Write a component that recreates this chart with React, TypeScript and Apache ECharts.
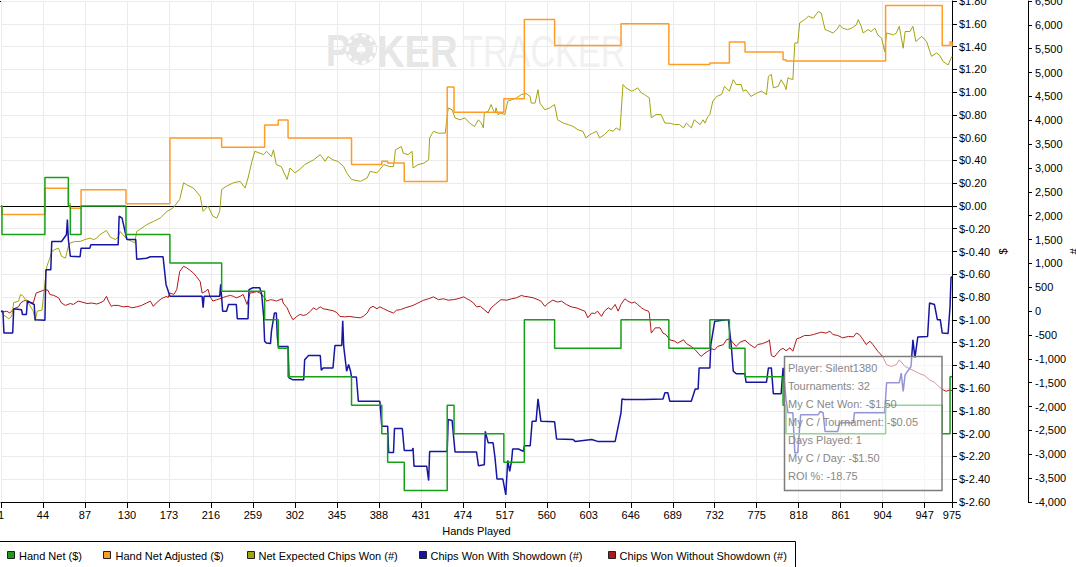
import React, { useEffect, useRef } from 'react';
import * as echarts from 'echarts';

// ---------- data (hand number, value) ----------
const seriesNames = [
  'Hand Net ($)',
  'Hand Net Adjusted ($)',
  'Net Expected Chips Won (#)',
  'Chips Won With Showdown (#)',
  'Chips Won Without Showdown (#)',
];

const handNet: [number, number][] = [
  [1, 0], [2, -0.25], [46, 0.25], [70, 0], [72, -0.25], [83, 0], [129, -0.25], [174, -0.5], [227, -0.75],
  [271, -1.0], [285, -1.25], [295, -1.5], [360, -1.75], [391, -2.0], [397, -2.25], [414, -2.5], [458, -1.75],
  [465, -2.0], [516, -2.25], [537, -1.0], [568, -1.25], [636, -1.0], [685, -1.25], [727, -1.0], [747, -1.25],
  [763, -1.5], [802, -1.75], [805, -2.0], [907, -1.75], [965, -2.0], [973, -1.5], [975, -1.5],
];

const handNetAdjusted: [number, number][] = [
  [1, 0], [2, -0.075], [46, 0.155], [70, 0.02], [72, -0.02], [83, 0.143], [129, 0.02], [174, 0.597], [227, 0.515],
  [271, 0.711], [285, 0.755], [295, 0.597], [360, 0.365], [391, 0.392], [397, 0.378], [414, 0.215], [458, 1.045],
  [465, 0.822], [516, 0.942], [537, 1.638], [568, 1.41], [636, 1.6], [685, 1.243], [727, 1.256], [747, 1.44],
  [763, 1.352], [802, 1.285], [805, 1.273], [907, 1.761], [965, 1.41], [973, 1.44], [975, 1.4],
];

const netExpectedChips: [number, number][] = [
  [1, 0], [3, -70], [9, -160], [12, -110], [14, 180], [19, 210], [21, 350], [24, 310], [26, 240], [29, 170], [32, 70],
  [34, 0], [36, -210], [38, 0], [43, 20], [46, 590], [48, 940], [51, 1110], [53, 1250], [56, 1290], [60, 1320],
  [63, 1150], [67, 1110], [70, 1360], [72, 1430], [77, 1460], [82, 1460], [87, 1500], [92, 1530], [96, 1500],
  [99, 1530], [102, 1600], [109, 1690], [113, 1550], [118, 1500], [121, 1550], [123, 1670], [126, 1600], [130, 1510],
  [135, 1460], [138, 1430], [140, 1670], [143, 1710], [150, 1810], [157, 1880], [164, 1950], [171, 2090], [177, 2160],
  [184, 2340], [188, 2690], [191, 2650], [198, 2580], [205, 2410], [208, 2090], [213, 2200], [218, 1990], [222, 1950],
  [225, 2090], [227, 2550], [232, 2620], [239, 2690], [246, 2720], [251, 2580], [254, 2790], [258, 3140], [261, 3350],
  [270, 3280], [273, 3350], [278, 3240], [280, 3380], [283, 3070], [288, 3030], [294, 2760], [297, 3000], [302, 2900],
  [307, 2970], [312, 3070], [321, 3170], [328, 3280], [333, 3140], [336, 3240], [341, 3170], [346, 3140], [352, 3030],
  [355, 2900], [360, 2760], [369, 2720], [376, 2790], [379, 2930], [386, 2900], [389, 2970], [393, 3070], [399, 3030],
  [403, 3030], [405, 3380], [411, 3450], [413, 3310], [418, 3280], [422, 3350], [423, 3000], [428, 3070], [434, 3100],
  [439, 3170], [440, 3630], [444, 3770], [449, 3730], [456, 3730], [459, 4260], [463, 4220], [466, 4050], [471, 4010],
  [476, 4050], [481, 3940], [486, 3870], [490, 4010], [493, 3940], [495, 3840], [496, 4150], [500, 4190], [503, 4330],
  [505, 4220], [507, 4150], [508, 4260], [510, 4120], [513, 4150], [517, 4120], [520, 4400], [524, 4430], [529, 4470],
  [534, 4540], [539, 4560], [543, 4500], [544, 4360], [548, 4360], [551, 4640], [553, 4360], [558, 4220], [563, 4260],
  [568, 4330], [571, 4010], [577, 3940], [582, 3910], [587, 3870], [592, 3800], [597, 3770], [600, 3630], [604, 3700],
  [607, 3730], [611, 3770], [614, 3630], [619, 3700], [624, 3800], [628, 3770], [631, 3840], [635, 3790], [638, 4750],
  [641, 4680], [647, 4610], [650, 4640], [653, 4680], [657, 4570], [660, 4540], [665, 4470], [667, 4050], [672, 4120],
  [677, 4120], [681, 3940], [686, 3940], [691, 3910], [696, 3910], [700, 3840], [703, 3940], [708, 3840], [711, 4010],
  [717, 3910], [720, 4010], [722, 3940], [725, 4080], [727, 4120], [730, 4400], [734, 4500], [739, 4540], [742, 4710],
  [747, 4610], [751, 4850], [754, 4750], [759, 4750], [761, 4610], [764, 4640], [769, 4500], [775, 4570], [780, 4610],
  [785, 4540], [787, 4920], [790, 4960], [792, 4680], [797, 4710], [800, 4850], [804, 4710], [805, 4640], [807, 4890],
  [812, 4850], [814, 5620], [817, 5620], [819, 6040], [824, 6110], [828, 6180], [833, 6140], [838, 6280], [841, 6250],
  [845, 5900], [850, 5860], [853, 5830], [857, 5900], [860, 6000], [863, 5930], [868, 5900], [872, 5930], [877, 6000],
  [879, 6110], [882, 5970], [884, 5830], [889, 5900], [892, 5860], [896, 5930], [899, 5790], [903, 5720], [906, 5440],
  [908, 5830], [915, 5790], [918, 5830], [921, 5970], [925, 5510], [927, 5860], [932, 5860], [935, 5970], [938, 5650],
  [944, 5760], [949, 5650], [954, 5340], [959, 5410], [962, 5370], [966, 5230], [971, 5160], [974, 5300], [975, 5340],
];

const chipsWithShowdown: [number, number][] = [
  [1, 0], [3, 0], [4, -460], [13, -460], [14, 50], [22, 30], [23, -70], [27, -70], [28, 210], [35, 140], [36, -180],
  [46, -190], [47, 870], [52, 870], [53, 1460], [63, 1460], [68, 1600], [69, 1920], [70, 1500], [72, 1150], [82, 1140],
  [83, 1320], [92, 1320], [93, 1390], [121, 1390], [122, 1990], [125, 1950], [128, 1670], [130, 1500], [139, 1500],
  [140, 1090], [150, 1110], [154, 1140], [167, 1140], [170, 560], [174, 310], [207, 310], [208, 70], [209, 310],
  [225, 310], [226, 560], [228, 0], [232, 0], [234, 140], [242, 140], [243, -160], [254, -160], [255, 450], [259, 490],
  [266, 490], [268, 350], [270, -110], [271, -630], [273, -670], [277, -680], [278, -420], [281, -40], [283, -40],
  [284, -530], [285, -740], [295, -740], [296, -1400], [300, -1440], [311, -1440], [312, -1020], [316, -930],
  [328, -930], [329, -1240], [331, -1190], [341, -1190], [343, -720], [350, -720], [351, -200], [352, -740],
  [355, -1260], [357, -1120], [359, -1260], [360, -1380], [365, -1380], [367, -1890], [389, -1890], [391, -2410],
  [397, -2410], [398, -2960], [403, -2960], [404, -2460], [412, -2460], [414, -2920], [422, -2920], [423, -2870],
  [424, -3250], [437, -3250], [439, -3550], [440, -2940], [458, -2940], [459, -2270], [463, -2290], [466, -2950],
  [488, -2950], [490, -3240], [496, -3220], [497, -2520], [500, -2760], [505, -2760], [507, -3080], [509, -3520],
  [515, -3520], [518, -3850], [520, -3130], [522, -3360], [524, -3130], [525, -2890], [531, -2890], [536, -2940],
  [537, -2820], [543, -2820], [545, -2310], [549, -2310], [551, -1840], [554, -2310], [568, -2320], [570, -2680],
  [587, -2690], [589, -2730], [606, -2690], [612, -2730], [630, -2730], [636, -2130], [637, -1840], [640, -1850],
  [660, -1850], [679, -1840], [681, -1710], [684, -1710], [686, -1890], [708, -1890], [712, -1630], [715, -1630],
  [716, -1190], [727, -1190], [728, -700], [732, -210], [744, -180], [746, -180], [749, -740], [751, -1260],
  [754, -1310], [763, -1310], [764, -1490], [785, -1490], [787, -1190], [790, -1190], [792, -1730], [800, -1730],
  [802, -1190], [805, -1850], [807, -2130], [812, -2130], [814, -2970], [817, -2970], [820, -2170], [838, -2170],
  [840, -2100], [843, -2130], [845, -2520], [858, -2520], [860, -2340], [874, -2340], [875, -2130], [906, -2130],
  [908, -1500], [921, -1500], [923, -1300], [925, -1680], [927, -1330], [933, -1160], [935, -600], [937, -980],
  [940, -540], [950, -530], [952, 170], [957, 140], [960, -180], [963, -180], [965, -460], [971, -470], [973, 100],
  [974, 700], [975, 730],
];

const chipsWithoutShowdown: [number, number][] = [
  [1, 0], [3, -20], [7, 0], [10, -40], [14, 50], [19, 90], [21, 170], [24, 210], [27, 230], [31, 190], [34, 170],
  [37, 380], [41, 410], [46, 450], [49, 440], [51, 350], [55, 330], [60, 280], [63, 170], [67, 120], [72, 160],
  [75, 140], [80, 210], [84, 190], [89, 160], [94, 170], [99, 150], [102, 170], [106, 210], [109, 310], [111, 210],
  [114, 100], [116, 120], [121, 120], [126, 90], [131, 100], [135, 70], [140, 90], [145, 120], [150, 170], [154, 210],
  [157, 100], [160, 170], [164, 240], [167, 280], [171, 310], [172, 280], [174, 380], [178, 350], [181, 450],
  [184, 830], [188, 940], [191, 910], [195, 850], [198, 800], [201, 730], [205, 620], [207, 380], [210, 410],
  [213, 460], [215, 310], [218, 210], [222, 240], [225, 260], [229, 290], [232, 310], [236, 330], [239, 310],
  [242, 280], [246, 310], [249, 350], [253, 140], [256, 380], [259, 390], [263, 410], [266, 380], [270, 310],
  [273, 210], [277, 240], [280, 230], [283, 210], [289, 260], [290, 170], [294, 70], [297, -70], [300, -180],
  [304, -110], [307, -70], [311, -90], [314, -70], [318, 0], [321, 70], [324, 30], [328, 90], [331, 50], [336, 30],
  [341, 10], [345, -30], [348, -110], [353, -120], [358, -110], [364, -130], [369, -140], [372, -110], [376, -40],
  [379, 70], [382, 100], [386, 50], [389, 90], [393, 50], [398, 0], [403, -40], [406, 20], [410, 30], [415, 70],
  [420, 100], [423, 120], [428, 170], [434, 230], [439, 260], [444, 300], [449, 240], [454, 260], [459, 230],
  [464, 240], [469, 260], [475, 300], [478, 260], [481, 230], [485, 170], [488, 90], [492, 100], [496, 30],
  [500, -40], [503, 70], [507, 140], [510, 190], [513, 240], [519, 230], [524, 260], [529, 280], [534, 330],
  [537, 310], [541, 300], [546, 280], [551, 240], [554, 210], [558, 100], [561, 160], [566, 230], [571, 190],
  [575, 210], [580, 140], [585, 90], [590, 70], [595, 30], [599, 0], [602, -140], [606, -40], [609, -50], [612, 0],
  [616, -110], [619, 0], [623, 70], [626, 30], [630, 140], [633, 0], [636, 140], [640, 260], [643, 210], [647, 170],
  [650, 190], [653, 140], [657, 70], [660, 30], [664, 0], [665, -40], [667, -460], [671, -350], [676, -350],
  [679, -460], [682, -490], [686, -600], [691, -630], [694, -670], [700, -600], [703, -680], [708, -740], [712, -810],
  [715, -880], [718, -950], [722, -880], [725, -840], [729, -790], [732, -810], [735, -740], [741, -700], [744, -600],
  [747, -580], [751, -670], [754, -740], [758, -650], [763, -610], [768, -700], [773, -770], [776, -700], [781, -680],
  [787, -630], [788, -600], [790, -930], [793, -960], [799, -810], [802, -780], [805, -830], [809, -770], [812, -840],
  [816, -580], [819, -560], [824, -510], [829, -510], [833, -490], [838, -460], [841, -440], [846, -460], [850, -420],
  [853, -490], [858, -510], [863, -560], [869, -530], [874, -540], [877, -460], [880, -490], [884, -600], [887, -700],
  [891, -630], [894, -700], [899, -840], [904, -950], [908, -1120], [913, -1160], [918, -1120], [921, -1020],
  [927, -1160], [932, -1210], [937, -1260], [942, -1310], [947, -1350], [952, -1440], [957, -1490], [962, -1590],
  [966, -1650], [969, -1680], [973, -1650], [975, -1670],
];

const statsLines = [
  'Player: Silent1380',
  'Tournaments: 32',
  'My C Net Won: -$1.50',
  'My C / Tournament: -$0.05',
  'Days Played: 1',
  'My C / Day: -$1.50',
  'ROI %: -18.75',
];

// ---------- styling ----------
const COLORS = ['#16a016', '#ff9c26', '#a3a30f', '#1616a3', '#b01818'];
const FONT = '"Liberation Sans", Arial, sans-serif';

const toXY = (pts: [number, number][]) => pts.map(([h, v]) => [h - 1, v]);

const fmtDollar = (v: number) => {
  const r = Math.round(v * 100) / 100;
  return r < 0 ? '$-' + Math.abs(r).toFixed(2) : '$' + r.toFixed(2);
};
const fmtChips = (v: number) => Math.round(v).toLocaleString('en-US');

export default function App() {
  const ref = useRef<HTMLDivElement>(null);

  useEffect(() => {
    if (!ref.current) return;
    const chart = echarts.init(ref.current, undefined, { renderer: 'svg' });

    const legendBoxX = [7.5, 103.5, 247.5, 419.5, 608.5];
    const legendTextX = [19, 115.5, 258.5, 430.5, 619.5];

    const lineSeries = (idx: number, data: [number, number][], yAxisIndex: number, width: number, step?: string) => ({
      name: seriesNames[idx],
      type: 'line',
      yAxisIndex,
      step: step || false,
      data: toXY(data),
      symbol: 'none',
      showSymbol: false,
      lineStyle: { color: COLORS[idx], width },
      itemStyle: { color: COLORS[idx] },
      z: 2,
      silent: true,
    });

    const option: any = {
      animation: false,
      textStyle: { fontFamily: FONT },
      grid: { left: 1, right: 124, top: 1, bottom: 65, containLabel: false, outerBoundsMode: 'none' },
      xAxis: [
        {
          type: 'value',
          min: 0,
          max: 974,
          interval: 43,
          name: 'Hands Played',
          nameLocation: 'middle',
          nameGap: 23,
          nameMoveOverlap: false,
          nameTextStyle: { color: '#000', fontSize: 11, fontFamily: FONT },
          axisLine: { show: true, onZero: false, lineStyle: { color: '#000', width: 1 } },
          axisTick: { show: true, length: 6, lineStyle: { color: '#000' } },
          axisLabel: {
            color: '#000', fontSize: 11, fontFamily: FONT, margin: 7,
            showMinLabel: true, showMaxLabel: true, hideOverlap: false,
            formatter: (v: number) => String(Math.round(v) + 1),
          },
          splitLine: { show: true, lineStyle: { color: '#ebebeb', width: 1 } },
        },
        {
          // $0.00 reference line (axis line placed on the $ axis zero)
          type: 'value',
          min: 0,
          max: 974,
          position: 'bottom',
          axisLine: { show: true, onZero: true, onZeroAxisIndex: 0, lineStyle: { color: '#000', width: 1 } },
          axisTick: { show: false },
          axisLabel: { show: false },
          splitLine: { show: false },
          z: 1,
        },
      ],
      yAxis: [
        {
          type: 'value',
          position: 'right',
          min: -2.6,
          max: 1.8,
          interval: 0.2,
          name: '$',
          nameLocation: 'middle',
          nameGap: 45,
          nameMoveOverlap: false,
          nameTextStyle: { color: '#000', fontSize: 11, fontFamily: FONT },
          axisLine: { show: true, onZero: false, lineStyle: { color: '#000', width: 1 } },
          axisTick: { show: true, length: 5, lineStyle: { color: '#000' } },
          axisLabel: { color: '#000', fontSize: 11, fontFamily: FONT, margin: 7, showMinLabel: true, showMaxLabel: true, formatter: fmtDollar },
          splitLine: { show: true, lineStyle: { color: '#ebebeb', width: 1 } },
        },
        {
          type: 'value',
          position: 'right',
          offset: 76,
          min: -4000,
          max: 6500,
          interval: 500,
          name: '#',
          nameLocation: 'middle',
          nameGap: 40,
          nameMoveOverlap: false,
          nameTextStyle: { color: '#000', fontSize: 11, fontFamily: FONT },
          axisLine: { show: true, onZero: false, lineStyle: { color: '#000', width: 1 } },
          axisTick: { show: true, length: 4, lineStyle: { color: '#000' } },
          axisLabel: { color: '#000', fontSize: 11, fontFamily: FONT, margin: 7, showMinLabel: true, showMaxLabel: true, formatter: fmtChips },
          splitLine: { show: false },
        },
      ],
      series: [
        lineSeries(4, chipsWithoutShowdown, 1, 1),
        lineSeries(2, netExpectedChips, 1, 1),
        lineSeries(1, handNetAdjusted, 0, 1.5, 'end'),
        lineSeries(3, chipsWithShowdown, 1, 1.5),
        lineSeries(0, handNet, 0, 1.5, 'end'),
      ],
      graphic: {
        elements: [
          // top border of plot
          { type: 'line', silent: true, shape: { x1: 0, y1: 1.5, x2: 952, y2: 1.5 }, style: { stroke: '#000', lineWidth: 1 } },
          // watermark
          {
            type: 'text', silent: true, x: 326, y: 51, scaleX: 0.8,
            style: { text: 'P', font: 'bold 45px ' + FONT, fill: '#e6e6e6', align: 'left', verticalAlign: 'middle', textAlign: 'left', textVerticalAlign: 'middle' },
          },
          { type: 'circle', silent: true, shape: { cx: 361, cy: 49, r: 16 }, style: { fill: '#e6e6e6' } },
          { type: 'circle', silent: true, shape: { cx: 361, cy: 49, r: 13.5 }, style: { fill: 'none', stroke: '#ffffff', lineWidth: 3, lineDash: [4, 4] } },
          { type: 'circle', silent: true, shape: { cx: 361, cy: 49, r: 10 }, style: { fill: '#e6e6e6' } },
          {
            type: 'text', silent: true, x: 361, y: 49,
            style: { text: '\u2660', font: '15px "DejaVu Sans"', fill: '#ffffff', align: 'center', verticalAlign: 'middle', textAlign: 'center', textVerticalAlign: 'middle' },
          },
          {
            type: 'text', silent: true, x: 377, y: 51, scaleX: 0.85,
            style: { text: 'KER', font: 'bold 45px ' + FONT, fill: '#e6e6e6', align: 'left', verticalAlign: 'middle', textAlign: 'left', textVerticalAlign: 'middle' },
          },
          {
            type: 'text', silent: true, x: 462, y: 51, scaleX: 0.76,
            style: { text: 'TRACKER', font: '45px ' + FONT, fill: '#f1f1f1', align: 'left', verticalAlign: 'middle', textAlign: 'left', textVerticalAlign: 'middle' },
          },
          // stats box
          {
            type: 'rect', silent: true, z: 50,
            shape: { x: 784.5, y: 356.5, width: 157.5, height: 134 },
            style: { fill: 'rgba(255,255,255,0.55)', stroke: '#7d7d7d', lineWidth: 1.5 },
          },
          ...statsLines.map((t, i) => ({
            type: 'text', silent: true, z: 51, x: 788, y: 367.5 + 18 * i,
            style: { text: t, font: '11px ' + FONT, fill: '#888888', align: 'left', verticalAlign: 'middle', textAlign: 'left', textVerticalAlign: 'middle' },
          })),
          // legend frame
          { type: 'line', silent: true, shape: { x1: 0, y1: 541.5, x2: 795.5, y2: 541.5 }, style: { stroke: '#000', lineWidth: 1 } },
          { type: 'line', silent: true, shape: { x1: 795.5, y1: 541.5, x2: 795.5, y2: 567 }, style: { stroke: '#000', lineWidth: 1 } },
          ...seriesNames.map((n, i) => ({
            type: 'rect', silent: true,
            shape: { x: legendBoxX[i], y: 551.5, width: 7, height: 7 },
            style: { fill: COLORS[i], stroke: '#222', lineWidth: 1 },
          })),
          ...seriesNames.map((n, i) => ({
            type: 'text', silent: true, x: legendTextX[i], y: 555.5,
            style: { text: n, font: '11px ' + FONT, fill: '#000', align: 'left', verticalAlign: 'middle', textAlign: 'left', textVerticalAlign: 'middle' },
          })),
        ],
      },
    };

    chart.setOption(option);
    return () => chart.dispose();
  }, []);

  return (
    <div
      ref={ref}
      style={{ position: 'absolute', left: 0, top: 0, width: 1076, height: 567, background: '#fff' }}
    />
  );
}
